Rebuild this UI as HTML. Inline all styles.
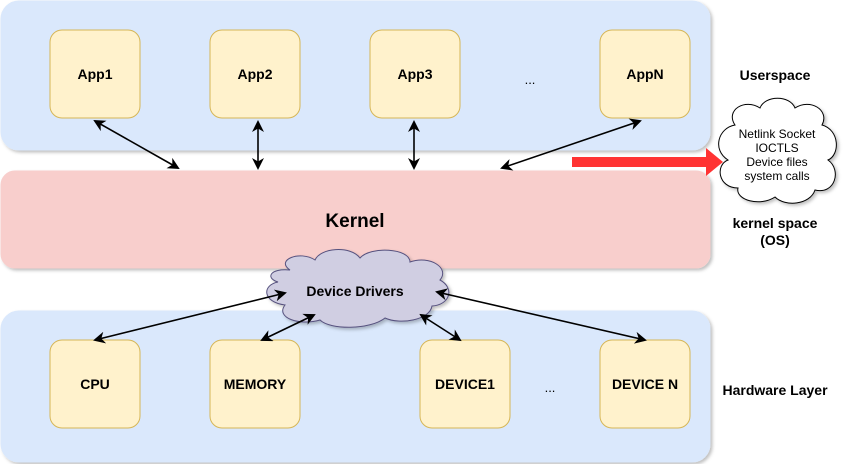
<!DOCTYPE html>
<html><head><style>
body{margin:0;width:843px;height:464px;background:#fff;overflow:hidden;font-family:"Liberation Sans",Arial,sans-serif}
</style></head><body>
<svg width="843" height="464" xmlns="http://www.w3.org/2000/svg" font-family="Liberation Sans, Arial, sans-serif">
<defs>
<marker id="a" markerWidth="12" markerHeight="12" refX="10" refY="6" orient="auto-start-reverse" markerUnits="userSpaceOnUse"><path d="M0,0 L12,6 L0,12 L3.5,6 z" fill="#000"/></marker>
<filter id="s"><feDropShadow dx="2" dy="2" stdDeviation="1.5" flood-color="#000" flood-opacity="0.25"/></filter>
</defs>
<g filter="url(#s)">
<rect x="1" y="1" width="709" height="149" rx="18" fill="#dae8fc" stroke="#dae8fc"/>
<rect x="1" y="171" width="709" height="97" rx="14" fill="#f8cecc" stroke="#f8cecc"/>
<rect x="1" y="311" width="709" height="151" rx="18" fill="#dae8fc" stroke="#dae8fc"/>
</g>
<g fill="#fff2cc" stroke="#d6b656">
<rect x="50" y="30" width="90" height="88" rx="12"/>
<rect x="210" y="30" width="90" height="88" rx="12"/>
<rect x="370" y="30" width="90" height="88" rx="12"/>
<rect x="600" y="30" width="90" height="88" rx="12"/>
<rect x="50" y="340" width="90" height="88" rx="12"/>
<rect x="210" y="340" width="90" height="88" rx="12"/>
<rect x="420" y="340" width="90" height="88" rx="12"/>
<rect x="600" y="340" width="90" height="88" rx="12"/>
</g>
<g font-size="14" font-weight="bold" text-anchor="middle">
<text x="95" y="79">App1</text><text x="255" y="79">App2</text><text x="415" y="79">App3</text><text x="645" y="79">AppN</text>
<text x="95" y="389">CPU</text><text x="255" y="389">MEMORY</text><text x="465" y="389">DEVICE1</text><text x="645" y="389">DEVICE N</text>
<text x="355" y="227" font-size="19">Kernel</text>
<text x="775" y="80">Userspace</text>
<text x="775" y="228">kernel space</text><text x="775" y="245">(OS)</text>
<text x="775" y="395">Hardware Layer</text>
</g>
<g font-size="13" text-anchor="middle"><text x="530" y="84">...</text><text x="550" y="392">...</text></g>
<path d="M290,270 C275,260 300,250 315,260 C320,248 350,245 360,258 C370,246 410,248 410,262 C430,255 450,268 440,280 C455,288 450,305 432,306 C430,320 400,325 385,318 C370,330 330,330 320,320 C300,326 275,318 285,305 C262,302 262,285 278,282 C265,278 270,268 290,270 Z" fill="#d0cee2" stroke="#56517e" filter="url(#s)"/>
<text x="355" y="296" font-size="14" font-weight="bold" text-anchor="middle">Device Drivers</text>
<g stroke="#000" stroke-width="1.6" marker-start="url(#a)" marker-end="url(#a)">
<line x1="95" y1="121" x2="178" y2="168"/>
<line x1="258" y1="122" x2="258" y2="168"/>
<line x1="414" y1="122" x2="414" y2="168"/>
<line x1="640" y1="121" x2="502" y2="168"/>
<line x1="95" y1="340" x2="285" y2="293"/>
<line x1="262" y1="340" x2="314" y2="315"/>
<line x1="460" y1="340" x2="421" y2="315"/>
<line x1="645" y1="340" x2="437" y2="292"/>
</g>
<path d="M572,157 L706,157 L706,148 L723,162 L706,176 L706,167 L572,167 Z" fill="#ff3333"/>
<path d="M735,125 C725,110 745,98 760,108 C765,95 790,95 795,108 C810,98 830,110 822,125 C840,130 840,155 828,160 C842,170 835,195 815,190 C810,205 785,207 775,197 C760,207 735,200 738,188 C718,188 715,165 728,160 C712,150 718,128 735,125 Z" fill="#fff" stroke="#000" filter="url(#s)"/>
<g font-size="12" text-anchor="middle">
<text x="777" y="138">Netlink Socket</text><text x="777" y="152">IOCTLS</text><text x="777" y="166">Device files</text><text x="777" y="180">system calls</text>
</g>
</svg>
</body></html>
